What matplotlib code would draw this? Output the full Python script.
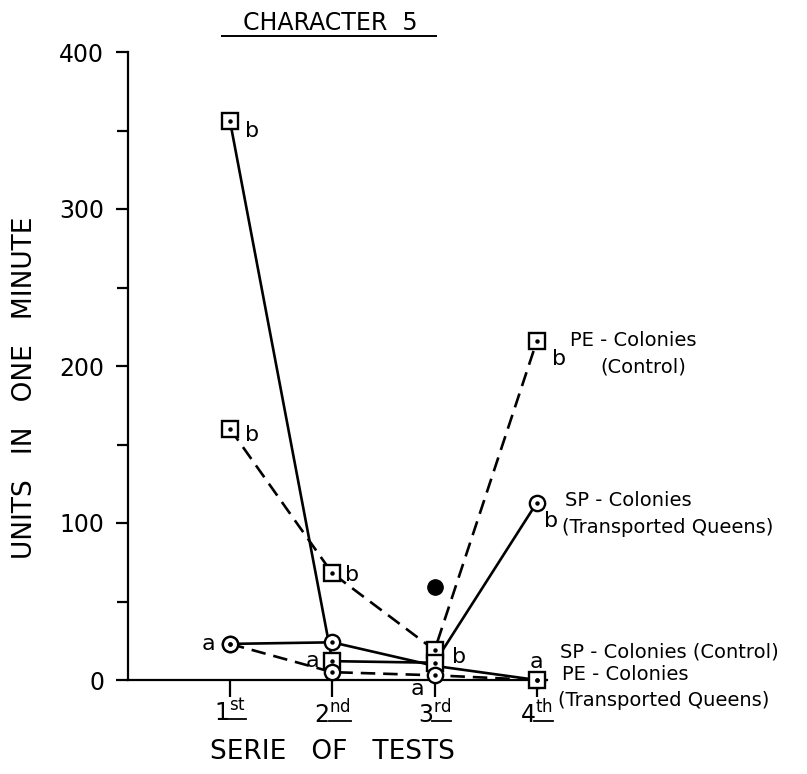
import matplotlib
matplotlib.use("Agg")
import matplotlib.pyplot as plt
from matplotlib.lines import Line2D
from matplotlib.ticker import MultipleLocator

plt.rcParams['font.family'] = ['DejaVu Sans']

# Test series (1st..4th) and measured units per minute
series_x = [1, 2, 3, 4]
tick_labels = [r'1$^{\rm st}$', r'2$^{\rm nd}$', r'3$^{\rm rd}$', r'4$^{\rm th}$']

pe_control = [160, 68, 19, 216]
sp_transported = [356, 12, 11, 113]
sp_control = [23, 24, 9, 0]
pe_transported = [23, 5, 3, 0]
extra_point = (3, 59)

# significance letters for each point ('' = none)
pe_control_sig = ['b', 'b', '', 'b']
sp_transported_sig = ['b', 'a', 'b', 'b']
sp_control_sig = ['a', '', '', '']
pe_transported_sig = ['', '', 'a', 'a']

series_labels = {
    'pe_control': ('PE - Colonies', '(Control)'),
    'sp_transported': ('SP - Colonies', '(Transported Queens)'),
    'sp_control': ('SP - Colonies (Control)',),
    'pe_transported': ('PE - Colonies', '(Transported Queens)'),
}

W, H = 807, 774
fig = plt.figure(figsize=(W / 100, H / 100), dpi=100)
x0_px, step_px = 127.7, 102.3
ax = fig.add_axes([x0_px / W, 1 - 680 / H, 4.1 * step_px / W, 628 / H])
ax.set_xlim(0, 4.1)
ax.set_ylim(0, 400)

lw = 1.9
dash = (5.5, 3)

def draw(values, style, markers):
    ax.plot(series_x, values, color='black', lw=lw, ls=style, zorder=2,
            **({'dashes': dash} if style == '--' else {}))
    for x, v, m in zip(series_x, values, markers):
        if m is None:
            continue
        ax.plot(x, v, marker=m, ms=11, mfc='white', mec='black', mew=1.7,
                ls='none', zorder=3, clip_on=False)
        ax.plot(x, v, marker='o', ms=2.2, color='black', ls='none', zorder=4,
                clip_on=False)

draw(pe_control, '--', ['s', 's', 's', 's'])
draw(sp_transported, '-', ['s', 's', 's', 'o'])
draw(sp_control, '-', ['o', 'o', None, 'o'])
draw(pe_transported, '--', ['o', 'o', 'o', 's'])
ax.plot(*extra_point, marker='o', ms=11, color='black', ls='none', zorder=3)

# significance letter placement (offset pixels from each point)
letter_offsets = {
    'pe_control': [(22, -6), (20, -2), (0, 0), (22, -18)],
    'sp_transported': [(22, -10), (-20, 0), (24, 6), (14, -18)],
    'sp_control': [(-22, 0), (0, 0), (0, 0), (0, 0)],
    'pe_transported': [(0, 0), (0, 0), (-17, -14), (0, 18)],
}
all_series = {
    'pe_control': (pe_control, pe_control_sig),
    'sp_transported': (sp_transported, sp_transported_sig),
    'sp_control': (sp_control, sp_control_sig),
    'pe_transported': (pe_transported, pe_transported_sig),
}
for key, (vals, sigs) in all_series.items():
    for x, v, s, off in zip(series_x, vals, sigs, letter_offsets[key]):
        if s:
            ax.annotate(s, (x, v), xytext=off, textcoords='offset pixels',
                        ha='center', va='center', fontsize=16,
                        annotation_clip=False)

# series names next to the last test
name_offsets = {
    'pe_control': [(33, 0, 'left'), (106, -26, 'center')],
    'sp_transported': [(28, 2, 'left'), (25, -25, 'left')],
    'sp_control': [(23, 28, 'left')],
    'pe_transported': [(25, 5, 'left'), (21, -20, 'left')],
}
for key, lines in series_labels.items():
    vals = all_series[key][0]
    for text, (dx, dy, ha) in zip(lines, name_offsets[key]):
        ax.annotate(text, (4, vals[-1]), xytext=(dx, dy),
                    textcoords='offset pixels', ha=ha, va='center',
                    fontsize=14, annotation_clip=False)

# axes styling
for side in ('top', 'right'):
    ax.spines[side].set_visible(False)
for side in ('left', 'bottom'):
    ax.spines[side].set_linewidth(1.6)
ax.set_xticks(series_x)
ax.set_xticklabels(tick_labels, fontsize=17)
ax.yaxis.set_major_locator(MultipleLocator(100))
ax.yaxis.set_minor_locator(MultipleLocator(50))
ax.tick_params(axis='y', which='major', direction='out', length=9, width=1.6,
               labelsize=17, pad=8)
ax.tick_params(axis='y', which='minor', direction='out', length=8, width=1.6)
ax.tick_params(axis='x', direction='out', length=12, width=1.6, pad=2)

fig.text(330 / W, 1 - 23 / H, 'CHARACTER  5', ha='center', va='center',
         fontsize=17)
fig.add_artist(Line2D([222 / W, 436 / W], [1 - 36 / H, 1 - 36 / H],
                      color='black', lw=1.4))
fig.text(25 / W, 1 - 388 / H, 'UNITS   IN   ONE   MINUTE', rotation=90,
         ha='center', va='center', fontsize=19)
fig.text(332 / W, 1 - 752 / H, 'SERIE   OF   TESTS', ha='center', va='center',
         fontsize=19)

# underline the ordinal suffixes of the test labels
fig.canvas.draw()
renderer = fig.canvas.get_renderer()
for lab in ax.get_xticklabels():
    bb = lab.get_window_extent(renderer)
    x_start = bb.x0 + bb.width * 0.42
    y_line = bb.y0 + bb.height * 0.25
    fig.add_artist(Line2D([x_start / W, bb.x1 / W], [y_line / H, y_line / H],
                          color='black', lw=1.3))

fig.savefig('out.png', dpi=100)
